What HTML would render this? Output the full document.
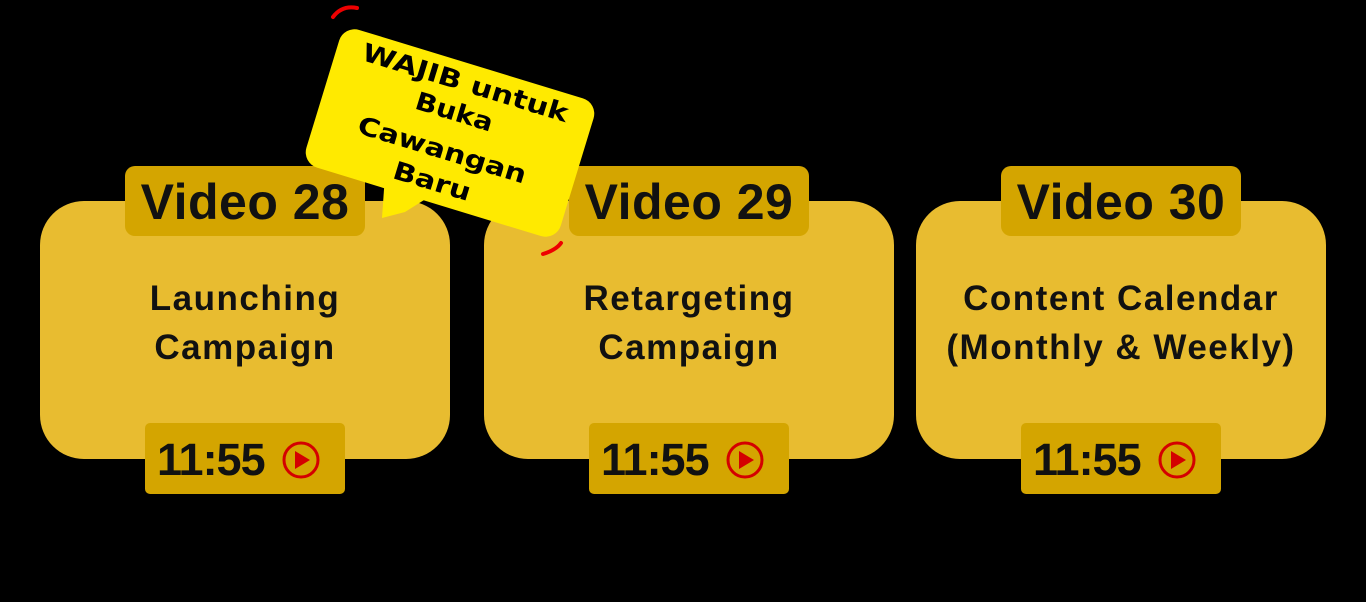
<!DOCTYPE html>
<html><head><style>
html,body{margin:0;padding:0;background:#000;width:1366px;height:602px;overflow:hidden;font-family:"Liberation Sans",sans-serif;}
.card{position:absolute;top:201px;width:410px;height:258px;background:#e8bc30;border-radius:44px;}
.body{position:absolute;top:274px;width:410px;text-align:center;font-size:35px;font-weight:bold;letter-spacing:1.5px;line-height:49px;color:#111;}
.hd{position:absolute;top:166px;width:240px;height:70px;background:#d4a500;border-radius:10px;text-align:center;font-weight:bold;font-size:50px;letter-spacing:0.5px;line-height:72px;color:#111;}
.tm{position:absolute;top:423px;width:200px;height:71px;background:#d4a500;border-radius:5px;}
.tm span{position:absolute;left:12px;top:0;font-weight:bold;font-size:45px;line-height:74px;color:#111;letter-spacing:-1px;}
.tm svg{position:absolute;left:136px;top:17px;}
</style></head><body>
<div class="card" style="left:40px"></div>
<div class="card" style="left:484px"></div>
<div class="card" style="left:916px"></div>
<div class="body" style="left:40px">Launching<br>Campaign</div>
<div class="body" style="left:484px">Retargeting<br>Campaign</div>
<div class="body" style="left:916px">Content Calendar<br>(Monthly &amp; Weekly)</div>
<div class="hd" style="left:125px">Video 28</div>
<div class="hd" style="left:569px">Video 29</div>
<div class="hd" style="left:1001px">Video 30</div>
<div class="tm" style="left:145px"><span>11:55</span><svg width="40" height="40"><circle cx="20" cy="20" r="17" fill="none" stroke="#d40000" stroke-width="3"/><polygon points="14,11 14,29 29,20" fill="#d40000"/></svg></div>
<div class="tm" style="left:589px"><span>11:55</span><svg width="40" height="40"><circle cx="20" cy="20" r="17" fill="none" stroke="#d40000" stroke-width="3"/><polygon points="14,11 14,29 29,20" fill="#d40000"/></svg></div>
<div class="tm" style="left:1021px"><span>11:55</span><svg width="40" height="40"><circle cx="20" cy="20" r="17" fill="none" stroke="#d40000" stroke-width="3"/><polygon points="14,11 14,29 29,20" fill="#d40000"/></svg></div>
<svg style="position:absolute;left:0;top:0" width="1366" height="602">
<path d="M333,17 Q342,5 357,8" stroke="#e00" stroke-width="4" fill="none" stroke-linecap="round"/>
<path d="M543,254 Q556,250 561,243" stroke="#e00" stroke-width="4" fill="none" stroke-linecap="round"/>
<polygon points="385,175 440,190 405,212 382,218" fill="#ffea00"/>
<g transform="translate(450,133) rotate(17)">
<rect x="-133" y="-72" width="266" height="144" rx="16" fill="#ffea00"/>
<g font-family="'DejaVu Sans',sans-serif" font-size="25" font-weight="bold" fill="#000">
<text x="-107" y="-44" textLength="214" lengthAdjust="spacingAndGlyphs">WAJIB untuk</text>
<text x="-42" y="-13" textLength="80" lengthAdjust="spacingAndGlyphs">Buka</text>
<text x="-90" y="27" textLength="175" lengthAdjust="spacingAndGlyphs">Cawangan</text>
<text x="-43" y="60" textLength="80" lengthAdjust="spacingAndGlyphs">Baru</text>
</g>
</g>
</svg>
</body></html>
